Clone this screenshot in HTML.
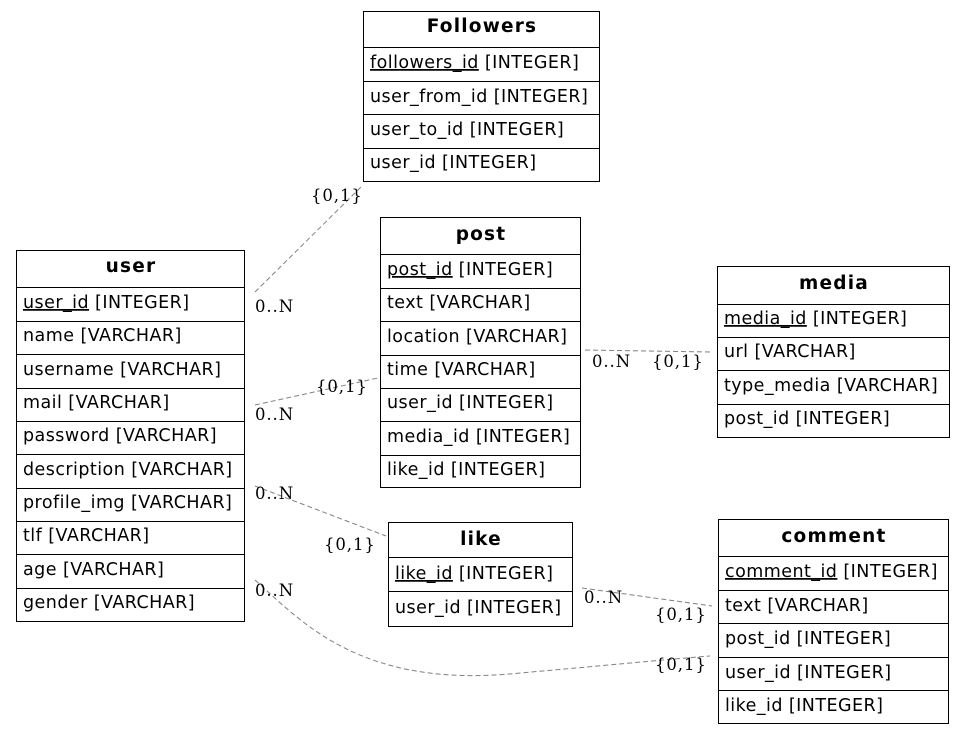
<!DOCTYPE html>
<html><head><meta charset="utf-8"><style>
html,body{margin:0;padding:0;background:#fff;width:965px;height:734px;overflow:hidden}
</style></head><body>
<svg width="965" height="734" xmlns="http://www.w3.org/2000/svg" font-family="DejaVu Sans, Liberation Sans, sans-serif" font-size="17.5" letter-spacing="0.45">
<g fill="none" stroke="#808080" stroke-dasharray="5,3" stroke-width="1">
<path d="M255,292 L362,186"/>
<path d="M255,405 L378,378"/>
<path d="M255,486 L386,536"/>
<path d="M255,580 C300,620 360,690 520,673 C600,666 660,660 710,656"/>
<path d="M585,350 L712,352"/>
<path d="M582,588 L712,606"/>
</g>
<g font-family="DejaVu Serif, Liberation Serif, serif" font-size="16.5" letter-spacing="0.9" fill="#000">
<text x="311" y="201">{0,1}</text>
<text x="255" y="312">0..N</text>
<text x="316" y="392">{0,1}</text>
<text x="255" y="420">0..N</text>
<text x="255" y="499">0..N</text>
<text x="324" y="550">{0,1}</text>
<text x="255" y="596">0..N</text>
<text x="655" y="670">{0,1}</text>
<text x="592" y="367">0..N</text>
<text x="652" y="367">{0,1}</text>
<text x="584" y="603">0..N</text>
<text x="655" y="620">{0,1}</text>
</g>
<g stroke="#000" fill="none" stroke-width="1">
<rect x="363.5" y="11.5" width="236" height="170"/>
<path d="M363,47.5H599M363,81.5H599M363,114.5H599M363,148.5H599"/>
<rect x="380.5" y="217.5" width="200" height="270"/>
<path d="M380,254.5H580M380,288.5H580M380,321.5H580M380,355.5H580M380,388.5H580M380,421.5H580M380,455.5H580"/>
<rect x="16.5" y="250.5" width="228" height="371"/>
<path d="M16,287.5H244M16,321.5H244M16,354.5H244M16,388.5H244M16,421.5H244M16,454.5H244M16,488.5H244M16,521.5H244M16,554.5H244M16,588.5H244"/>
<rect x="717.5" y="266.5" width="232" height="171"/>
<path d="M717,304.5H949M717,337.5H949M717,370.5H949M717,404.5H949"/>
<rect x="388.5" y="522.5" width="184" height="104"/>
<path d="M388,557.5H572M388,591.5H572"/>
<rect x="718.5" y="519.5" width="230" height="204"/>
<path d="M718,556.5H948M718,590.5H948M718,623.5H948M718,657.5H948M718,690.5H948"/>
</g>
<g fill="#000">
<g font-weight="bold" font-size="18.5" letter-spacing="1.2" text-anchor="middle">
<text x="482" y="32">Followers</text>
<text x="481" y="240">post</text>
<text x="131" y="272">user</text>
<text x="834" y="289">media</text>
<text x="481" y="545">like</text>
<text x="834" y="542">comment</text>
</g>
<text x="370" y="68"><tspan text-decoration="underline">followers_id</tspan> [INTEGER]</text>
<text x="370" y="102">user_from_id [INTEGER]</text>
<text x="370" y="135">user_to_id [INTEGER]</text>
<text x="370" y="168">user_id [INTEGER]</text>

<text x="387" y="275"><tspan text-decoration="underline">post_id</tspan> [INTEGER]</text>
<text x="387" y="308">text [VARCHAR]</text>
<text x="387" y="342">location [VARCHAR]</text>
<text x="387" y="375">time [VARCHAR]</text>
<text x="387" y="408">user_id [INTEGER]</text>
<text x="387" y="442">media_id [INTEGER]</text>
<text x="387" y="475">like_id [INTEGER]</text>

<text x="23" y="308"><tspan text-decoration="underline">user_id</tspan> [INTEGER]</text>
<text x="23" y="341">name [VARCHAR]</text>
<text x="23" y="375">username [VARCHAR]</text>
<text x="23" y="408">mail [VARCHAR]</text>
<text x="23" y="441">password [VARCHAR]</text>
<text x="23" y="475">description [VARCHAR]</text>
<text x="23" y="508">profile_img [VARCHAR]</text>
<text x="23" y="541">tlf [VARCHAR]</text>
<text x="23" y="575">age [VARCHAR]</text>
<text x="23" y="608">gender [VARCHAR]</text>

<text x="724" y="324"><tspan text-decoration="underline">media_id</tspan> [INTEGER]</text>
<text x="724" y="357">url [VARCHAR]</text>
<text x="724" y="391">type_media [VARCHAR]</text>
<text x="724" y="424">post_id [INTEGER]</text>

<text x="395" y="579"><tspan text-decoration="underline">like_id</tspan> [INTEGER]</text>
<text x="395" y="613">user_id [INTEGER]</text>

<text x="725" y="577"><tspan text-decoration="underline">comment_id</tspan> [INTEGER]</text>
<text x="725" y="611">text [VARCHAR]</text>
<text x="725" y="644">post_id [INTEGER]</text>
<text x="725" y="678">user_id [INTEGER]</text>
<text x="725" y="711">like_id [INTEGER]</text>
</g>
</svg>
</body></html>
